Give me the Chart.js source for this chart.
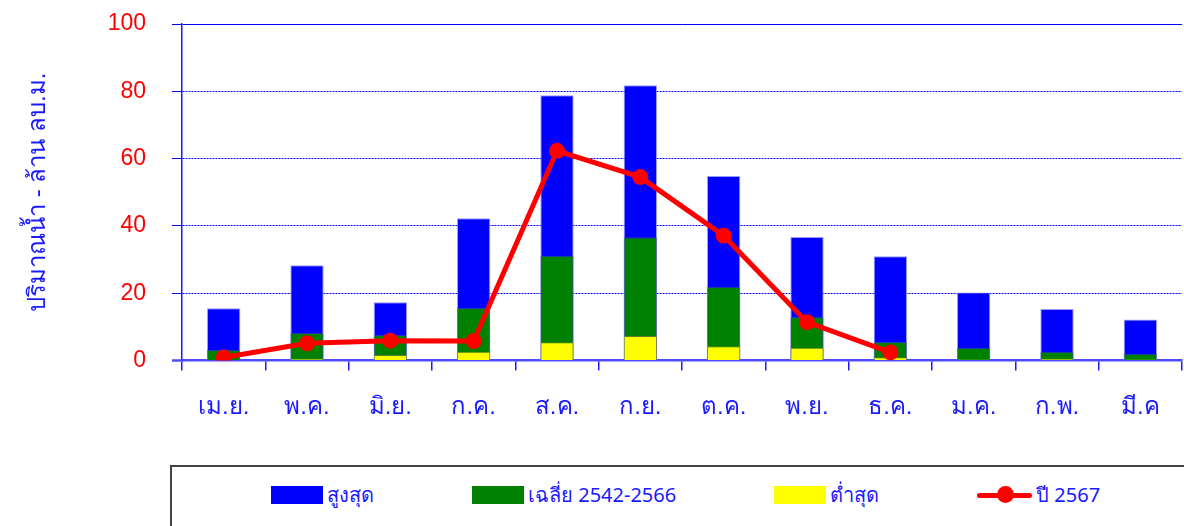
<!DOCTYPE html>
<html>
<head>
<meta charset="utf-8">
<script src="https://cdn.jsdelivr.net/npm/chart.js@4"></script>
<style>
  html, body { margin: 0; padding: 0; background: #fff; overflow: hidden; }
  body { width: 1184px; height: 526px; position: relative; font-family: "Noto Sans", sans-serif; }
  #wrap { position: absolute; left: 0; top: 0; width: 1184px; height: 440px; }
  #legend {
    position: absolute; left: 170px; top: 465px; width: 1040px; height: 80px;
    border: 2px solid #444; box-sizing: border-box;
    display: flex; align-items: flex-start; padding: 12px 0 0 99px; gap: 98px;
  }
  .item { display: flex; align-items: center; color: #1a1aff; font-size: 20px; white-space: nowrap; }
  .box { width: 52px; height: 18px; margin-right: 4px; }
  .lineMark { position: relative; width: 55px; height: 18px; margin-right: 4px; }
  .lineMark .l { position: absolute; left: 0; right: 0; top: 7px; height: 5px; background: red; border-radius: 3px; }
  .lineMark .d { position: absolute; left: 20px; top: 0; width: 17px; height: 17px; background: red; border-radius: 50%; }
</style>
</head>
<body>
<div id="wrap"><canvas id="chart"></canvas></div>
<div id="legend"></div>
<script>
// เดือน
const months = ['เม.ย.', 'พ.ค.', 'มิ.ย.', 'ก.ค.', 'ส.ค.', 'ก.ย.', 'ต.ค.', 'พ.ย.', 'ธ.ค.', 'ม.ค.', 'ก.พ.', 'มี.ค'];

// ปริมาณน้ำ (ล้าน ลบ.ม.)
const maxValues = [15.5, 28.3, 17.3, 42.3, 78.8, 81.8, 54.8, 36.7, 31.0, 20.2, 15.3, 12.2];
const avgValues = [3.1, 8.2, 7.6, 15.6, 31.1, 36.6, 21.9, 12.9, 5.5, 3.8, 2.6, 2.0];
const minValues = [0.2, 0.5, 1.6, 2.6, 5.4, 7.3, 4.2, 3.8, 1.0, 0.3, 0.5, 0.3];
const year2567 = [0.9, 5.1, 5.9, 5.8, 62.3, 54.5, 37.1, 11.4, 2.4, null, null, null];

const yTicks = [0, 20, 40, 60, 80, 100];

const BLUE = '#0000ff';
const AXIS = '#1a1aff';

const ctx = document.getElementById('chart').getContext('2d');
const chart = new Chart(ctx, {
    type: 'bar',
    data: {
        labels: months,
        datasets: [
            { label: 'ปี 2567', type: 'line', data: year2567, order: 0,
              borderColor: '#ff0000', backgroundColor: '#ff0000', borderWidth: 5,
              pointRadius: 8, pointHoverRadius: 8, pointBackgroundColor: '#ff0000', pointBorderWidth: 0,
              tension: 0, spanGaps: false },
            { label: 'ต่ำสุด', data: minValues, order: 1, backgroundColor: '#ffff00',
              borderColor: 'rgba(140,140,60,0.6)', borderWidth: 1 },
            { label: 'เฉลี่ย 2542-2566', data: avgValues, order: 2, backgroundColor: '#008000',
              borderColor: 'rgba(60,90,140,0.6)', borderWidth: 1 },
            { label: 'สูงสุด', data: maxValues, order: 3, backgroundColor: BLUE,
              borderColor: 'rgba(130,130,255,0.8)', borderWidth: 1 }
        ]
    },
    options: {
        responsive: true,
        maintainAspectRatio: false,
        animation: false,
        layout: { autoPadding: false, padding: { top: 24, right: 2, left: 0, bottom: 0 } },
        datasets: { bar: { grouped: false, categoryPercentage: 1, barPercentage: 0.4 } },
        plugins: { legend: { display: false }, tooltip: { enabled: false } },
        scales: {
            x: {
                offset: true,
                grid: { display: true, drawOnChartArea: false, drawTicks: true, tickLength: 10, color: AXIS, lineWidth: 1.5, offset: true },
                border: { display: true, color: '#4d4dff', width: 2.5 },
                ticks: { color: AXIS, font: { size: 24 }, padding: 22, maxRotation: 0 },
                afterFit: function(scale) { scale.height = 79.5; scale.paddingLeft = 0; scale.paddingRight = 0; }
            },
            y: {
                min: 0, max: 100,
                afterBuildTicks: function(scale) { scale.ticks = yTicks.map(v => ({ value: v })); },
                grid: {
                    color: function(c) { return c.tick && (c.tick.value === 0) ? 'rgba(0,0,0,0)' : BLUE; },
                    lineWidth: 1, tickLength: 10, drawTicks: true
                },
                border: {
                    display: true, color: AXIS, width: 1.5,
                    dash: function(c) { return c.tick && c.tick.value !== 100 ? [2, 1] : []; }
                },
                ticks: { color: '#ff0000', font: { size: 23 }, padding: 26 },
                title: { display: true, text: 'ปริมาณน้ำ - ล้าน ลบ.ม.', color: AXIS, font: { size: 24 }, padding: { top: 24, bottom: 0 } },
                afterFit: function(scale) { scale.width = 182; scale.paddingTop = 0; scale.paddingBottom = 0; }
            }
        }
    },
    plugins: [{
        // เส้นศูนย์ยื่นออกไปทางซ้าย
        id: 'zeroTick',
        afterDraw: function(c) {
            const y = c.scales.y.getPixelForValue(0);
            const g = c.ctx;
            g.save();
            g.strokeStyle = '#4d4dff';
            g.lineWidth = 2.5;
            g.beginPath();
            g.moveTo(172, y);
            g.lineTo(c.chartArea.left, y);
            g.stroke();
            g.restore();
        }
    }]
});

// คำอธิบายสัญลักษณ์
const legendEl = document.getElementById('legend');
const legendOrder = [3, 2, 1, 0];
legendOrder.forEach(function(i) {
    const ds = chart.data.datasets[i];
    const item = document.createElement('div');
    item.className = 'item';
    if (ds.type === 'line') {
        item.innerHTML = '<div class="lineMark"><div class="l"></div><div class="d"></div></div><span>' + ds.label + '</span>';
    } else {
        item.innerHTML = '<div class="box" style="background:' + ds.backgroundColor + '"></div><span>' + ds.label + '</span>';
    }
    legendEl.appendChild(item);
});
</script>
</body>
</html>
